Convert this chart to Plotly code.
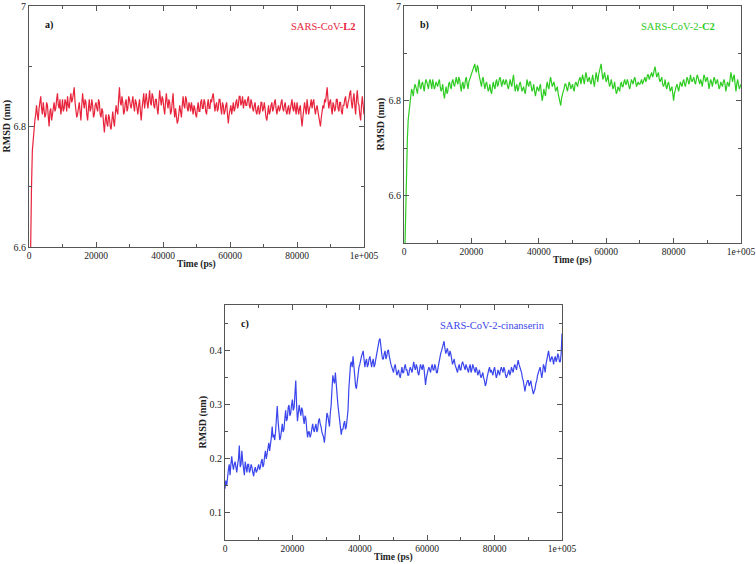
import plotly.graph_objects as go

time_ps = list(range(0, 100001, 250))

rmsd_l2 = [
    6.40, 6.52, 6.62, 6.70, 6.76, 6.78, 6.79, 6.81, 6.82, 6.835, 6.82, 6.81, 6.83, 6.845, 6.85, 6.83, 6.82, 6.84, 6.83, 6.815,
    6.82, 6.84, 6.835, 6.815, 6.80, 6.825, 6.83, 6.81, 6.82, 6.835, 6.84, 6.825, 6.83, 6.845, 6.855, 6.835, 6.83, 6.845, 6.82, 6.83,
    6.845, 6.825, 6.83, 6.845, 6.84, 6.825, 6.85, 6.835, 6.83, 6.845, 6.855, 6.84, 6.845, 6.855, 6.865, 6.84, 6.83, 6.815, 6.82, 6.835,
    6.84, 6.825, 6.81, 6.835, 6.855, 6.84, 6.83, 6.845, 6.84, 6.82, 6.81, 6.83, 6.845, 6.825, 6.83, 6.845, 6.835, 6.815, 6.82, 6.835,
    6.84, 6.83, 6.825, 6.845, 6.84, 6.82, 6.815, 6.83, 6.825, 6.805, 6.79, 6.81, 6.82, 6.805, 6.80, 6.82, 6.815, 6.80, 6.795, 6.81,
    6.825, 6.81, 6.80, 6.82, 6.835, 6.825, 6.82, 6.845, 6.865, 6.84, 6.835, 6.85, 6.84, 6.82, 6.825, 6.84, 6.845, 6.825, 6.83, 6.85,
    6.845, 6.835, 6.83, 6.84, 6.85, 6.835, 6.825, 6.845, 6.84, 6.83, 6.82, 6.835, 6.845, 6.825, 6.81, 6.83, 6.84, 6.855, 6.83, 6.845,
    6.855, 6.84, 6.83, 6.845, 6.86, 6.84, 6.835, 6.855, 6.85, 6.835, 6.83, 6.845, 6.845, 6.83, 6.82, 6.84, 6.86, 6.845, 6.835, 6.85,
    6.845, 6.83, 6.82, 6.84, 6.855, 6.84, 6.83, 6.845, 6.84, 6.82, 6.825, 6.84, 6.855, 6.83, 6.815, 6.83, 6.82, 6.805, 6.81, 6.825,
    6.835, 6.825, 6.815, 6.835, 6.85, 6.835, 6.83, 6.85, 6.845, 6.83, 6.825, 6.84, 6.835, 6.825, 6.84, 6.83, 6.82, 6.835, 6.83, 6.82,
    6.815, 6.83, 6.84, 6.825, 6.825, 6.84, 6.845, 6.83, 6.83, 6.845, 6.84, 6.825, 6.82, 6.835, 6.845, 6.83, 6.83, 6.845, 6.84, 6.85,
    6.855, 6.84, 6.825, 6.835, 6.84, 6.825, 6.83, 6.845, 6.845, 6.83, 6.82, 6.84, 6.835, 6.82, 6.825, 6.835, 6.84, 6.82, 6.805, 6.82,
    6.83, 6.835, 6.82, 6.83, 6.84, 6.825, 6.83, 6.84, 6.845, 6.83, 6.835, 6.85, 6.85, 6.835, 6.84, 6.85, 6.83, 6.84, 6.845, 6.835,
    6.835, 6.845, 6.85, 6.835, 6.83, 6.845, 6.84, 6.83, 6.825, 6.835, 6.84, 6.825, 6.82, 6.83, 6.835, 6.82, 6.825, 6.84, 6.84, 6.825,
    6.83, 6.84, 6.825, 6.815, 6.81, 6.825, 6.835, 6.82, 6.825, 6.835, 6.84, 6.825, 6.83, 6.84, 6.845, 6.83, 6.82, 6.83, 6.835, 6.825,
    6.83, 6.84, 6.845, 6.83, 6.825, 6.835, 6.84, 6.825, 6.82, 6.83, 6.835, 6.82, 6.83, 6.84, 6.845, 6.83, 6.825, 6.84, 6.83, 6.82,
    6.84, 6.83, 6.82, 6.83, 6.835, 6.815, 6.80, 6.815, 6.825, 6.84, 6.83, 6.82, 6.845, 6.835, 6.82, 6.83, 6.835, 6.845, 6.83, 6.84,
    6.845, 6.83, 6.82, 6.83, 6.835, 6.825, 6.815, 6.81, 6.80, 6.815, 6.825, 6.835, 6.83, 6.845, 6.84, 6.85, 6.865, 6.845, 6.83, 6.84,
    6.845, 6.83, 6.82, 6.84, 6.835, 6.825, 6.83, 6.845, 6.845, 6.83, 6.825, 6.84, 6.84, 6.825, 6.82, 6.835, 6.835, 6.845, 6.85, 6.835,
    6.83, 6.84, 6.845, 6.855, 6.86, 6.84, 6.83, 6.845, 6.855, 6.835, 6.82, 6.845, 6.86, 6.84, 6.835, 6.82, 6.81, 6.835, 6.85, 6.835,
    6.82,
]

rmsd_c2 = [
    6.40, 6.50, 6.60, 6.67, 6.72, 6.76, 6.78, 6.80, 6.81, 6.825, 6.82, 6.81, 6.825, 6.835, 6.83, 6.82, 6.815, 6.835, 6.845, 6.83,
    6.825, 6.835, 6.84, 6.83, 6.82, 6.835, 6.845, 6.84, 6.83, 6.825, 6.84, 6.845, 6.835, 6.825, 6.845, 6.835, 6.825, 6.83, 6.84, 6.835,
    6.83, 6.84, 6.845, 6.83, 6.82, 6.825, 6.835, 6.815, 6.805, 6.82, 6.83, 6.815, 6.82, 6.835, 6.84, 6.83, 6.825, 6.84, 6.845, 6.835,
    6.83, 6.84, 6.85, 6.84, 6.835, 6.85, 6.845, 6.83, 6.82, 6.835, 6.84, 6.825, 6.83, 6.845, 6.85, 6.835, 6.825, 6.84, 6.845, 6.85,
    6.855, 6.86, 6.865, 6.87, 6.878, 6.865, 6.86, 6.875, 6.87, 6.855, 6.845, 6.835, 6.83, 6.845, 6.85, 6.835, 6.825, 6.835, 6.84, 6.83,
    6.82, 6.825, 6.835, 6.82, 6.815, 6.83, 6.84, 6.83, 6.825, 6.84, 6.845, 6.83, 6.835, 6.845, 6.85, 6.84, 6.83, 6.84, 6.845, 6.835,
    6.835, 6.845, 6.84, 6.83, 6.825, 6.835, 6.845, 6.835, 6.83, 6.845, 6.855, 6.835, 6.82, 6.83, 6.835, 6.82, 6.825, 6.835, 6.84, 6.83,
    6.82, 6.825, 6.83, 6.82, 6.815, 6.83, 6.845, 6.835, 6.83, 6.84, 6.84, 6.83, 6.82, 6.825, 6.835, 6.82, 6.81, 6.82, 6.83, 6.825,
    6.82, 6.83, 6.835, 6.815, 6.80, 6.81, 6.825, 6.815, 6.81, 6.83, 6.84, 6.83, 6.825, 6.84, 6.85, 6.84, 6.83, 6.835, 6.84, 6.83,
    6.82, 6.825, 6.83, 6.815, 6.805, 6.795, 6.79, 6.805, 6.815, 6.82, 6.825, 6.835, 6.835, 6.825, 6.82, 6.83, 6.84, 6.835, 6.825, 6.83,
    6.835, 6.825, 6.82, 6.835, 6.84, 6.835, 6.83, 6.84, 6.845, 6.85, 6.835, 6.845, 6.855, 6.845, 6.835, 6.85, 6.86, 6.85, 6.84, 6.845,
    6.85, 6.84, 6.835, 6.845, 6.855, 6.84, 6.83, 6.845, 6.86, 6.85, 6.84, 6.855, 6.865, 6.87, 6.878, 6.86, 6.845, 6.85, 6.86, 6.85,
    6.84, 6.845, 6.855, 6.84, 6.83, 6.835, 6.845, 6.835, 6.825, 6.83, 6.84, 6.825, 6.815, 6.82, 6.83, 6.825, 6.82, 6.835, 6.84, 6.83,
    6.83, 6.84, 6.845, 6.835, 6.835, 6.845, 6.84, 6.83, 6.825, 6.835, 6.845, 6.84, 6.835, 6.845, 6.85, 6.84, 6.83, 6.835, 6.84, 6.835,
    6.835, 6.84, 6.845, 6.835, 6.84, 6.845, 6.85, 6.84, 6.845, 6.855, 6.855, 6.845, 6.85, 6.855, 6.86, 6.85, 6.855, 6.865, 6.872, 6.86,
    6.85, 6.855, 6.86, 6.845, 6.84, 6.845, 6.85, 6.835, 6.83, 6.835, 6.845, 6.83, 6.825, 6.835, 6.84, 6.83, 6.82, 6.825, 6.83, 6.815,
    6.80, 6.815, 6.825, 6.83, 6.835, 6.825, 6.82, 6.83, 6.84, 6.835, 6.83, 6.84, 6.845, 6.835, 6.83, 6.84, 6.85, 6.845, 6.835, 6.84,
    6.855, 6.845, 6.84, 6.845, 6.85, 6.84, 6.835, 6.845, 6.855, 6.85, 6.84, 6.835, 6.845, 6.84, 6.83, 6.84, 6.855, 6.85, 6.84, 6.845,
    6.85, 6.84, 6.825, 6.835, 6.845, 6.84, 6.83, 6.84, 6.85, 6.845, 6.835, 6.84, 6.845, 6.835, 6.825, 6.83, 6.84, 6.835, 6.83, 6.84,
    6.845, 6.835, 6.82, 6.83, 6.84, 6.835, 6.83, 6.845, 6.86, 6.85, 6.84, 6.85, 6.855, 6.835, 6.82, 6.835, 6.845, 6.835, 6.825, 6.83,
    6.835,
]

rmsd_cin = [
    0.145, 0.16, 0.15, 0.17, 0.18, 0.19, 0.17, 0.19, 0.205, 0.19, 0.18, 0.19, 0.195, 0.185, 0.175, 0.19, 0.2, 0.225, 0.185, 0.19,
    0.215, 0.195, 0.18, 0.17, 0.195, 0.185, 0.175, 0.19, 0.19, 0.175, 0.18, 0.19, 0.185, 0.175, 0.168, 0.18, 0.185, 0.175, 0.178, 0.185,
    0.19, 0.18, 0.185, 0.195, 0.2, 0.185, 0.19, 0.205, 0.215, 0.2, 0.21, 0.225, 0.23, 0.215, 0.225, 0.24, 0.26, 0.24, 0.245, 0.235,
    0.25, 0.27, 0.298, 0.27, 0.255, 0.235, 0.24, 0.255, 0.265, 0.25, 0.255, 0.275, 0.29, 0.27, 0.275, 0.295, 0.3, 0.28, 0.285, 0.3,
    0.31, 0.29, 0.295, 0.32, 0.345, 0.3, 0.27, 0.285, 0.3, 0.29, 0.28, 0.295, 0.29, 0.275, 0.265, 0.28, 0.275, 0.255, 0.24, 0.25,
    0.25, 0.24, 0.245, 0.255, 0.265, 0.255, 0.25, 0.26, 0.265, 0.25, 0.255, 0.27, 0.275, 0.265, 0.26, 0.25, 0.245, 0.24, 0.23, 0.25,
    0.27, 0.285, 0.28, 0.265, 0.26, 0.285, 0.3, 0.33, 0.355, 0.345, 0.34, 0.36, 0.345, 0.32, 0.3, 0.285, 0.27, 0.26, 0.245, 0.255,
    0.255, 0.265, 0.27, 0.255, 0.26, 0.275, 0.29, 0.33, 0.365, 0.375, 0.38, 0.37, 0.39, 0.37, 0.35, 0.335, 0.33, 0.345, 0.36, 0.37,
    0.375, 0.385, 0.39, 0.395, 0.4, 0.385, 0.37, 0.38, 0.385, 0.37, 0.375, 0.385, 0.39, 0.38, 0.37, 0.38, 0.385, 0.37, 0.375, 0.385,
    0.395, 0.4, 0.41, 0.42, 0.423, 0.405, 0.395, 0.385, 0.385, 0.395, 0.4, 0.385, 0.39, 0.4, 0.402, 0.39, 0.38, 0.375, 0.37, 0.365,
    0.36, 0.37, 0.375, 0.365, 0.355, 0.36, 0.365, 0.355, 0.35, 0.36, 0.37, 0.36, 0.36, 0.37, 0.375, 0.365, 0.365, 0.355, 0.355, 0.365,
    0.37, 0.365, 0.36, 0.37, 0.38, 0.37, 0.365, 0.375, 0.37, 0.36, 0.355, 0.365, 0.375, 0.37, 0.365, 0.375, 0.37, 0.355, 0.337, 0.35,
    0.36, 0.365, 0.37, 0.365, 0.36, 0.37, 0.375, 0.365, 0.365, 0.375, 0.37, 0.36, 0.36, 0.37, 0.38, 0.39, 0.395, 0.4, 0.405, 0.41,
    0.418, 0.405, 0.395, 0.4, 0.405, 0.395, 0.39, 0.4, 0.395, 0.385, 0.375, 0.38, 0.385, 0.375, 0.37, 0.365, 0.36, 0.37, 0.375, 0.365,
    0.365, 0.375, 0.38, 0.375, 0.37, 0.365, 0.375, 0.37, 0.365, 0.36, 0.37, 0.375, 0.36, 0.365, 0.375, 0.37, 0.365, 0.36, 0.37, 0.365,
    0.355, 0.36, 0.365, 0.355, 0.35, 0.355, 0.36, 0.35, 0.345, 0.335, 0.34, 0.35, 0.36, 0.365, 0.37, 0.36, 0.365, 0.36, 0.355, 0.365,
    0.37, 0.36, 0.35, 0.355, 0.365, 0.36, 0.355, 0.365, 0.37, 0.365, 0.36, 0.37, 0.365, 0.355, 0.35, 0.355, 0.36, 0.365, 0.355, 0.36,
    0.37, 0.365, 0.36, 0.37, 0.375, 0.37, 0.365, 0.375, 0.383, 0.375, 0.37, 0.365, 0.36, 0.35, 0.345, 0.335, 0.325, 0.335, 0.34, 0.345,
    0.345, 0.335, 0.34, 0.345, 0.335, 0.325, 0.32, 0.325, 0.33, 0.34, 0.345, 0.355, 0.36, 0.365, 0.37, 0.36, 0.35, 0.36, 0.375, 0.37,
    0.36, 0.375, 0.385, 0.395, 0.4, 0.39, 0.38, 0.385, 0.39, 0.385, 0.375, 0.385, 0.39, 0.38, 0.385, 0.395, 0.39, 0.38, 0.38, 0.395,
    0.432,
]

x_tickvals = [0, 20000, 40000, 60000, 80000, 100000]
x_ticktext = ["0", "20000", "40000", "60000", "80000", "1e+005"]
x_minor = [10000, 30000, 50000, 70000, 90000]
panel_labels = ["a)", "b)", "c)"]
legend_texts = ["SARS-CoV-<b>L2</b>", "SARS-CoV-2-<b>C2</b>", "SARS-CoV-2-cinanserin"]
colors = ["#e8243c", "#2ecc22", "#3a46ec"]

W, H = 756, 564
def px_x(v): return v / W
def px_y(v): return 1 - v / H

panels = [
    dict(x0=29, x1=364, yt=6, yb=247, yr=[6.6, 7.0], yticks=[6.6, 6.8, 7.0], ytext=["6.6", "6.8", "7"],
         yminor=[6.7, 6.9], leg_off=7),
    dict(x0=404, x1=741, yt=6, yb=243, yr=[6.5, 7.0], yticks=[6.6, 6.8, 7.0], ytext=["6.6", "6.8", "7"],
         yminor=[6.7, 6.9], leg_off=24),
    dict(x0=225, x1=562, yt=305, yb=540, yr=[0.05, 0.485], yticks=[0.1, 0.2, 0.3, 0.4], ytext=["0.1", "0.2", "0.3", "0.4"],
         yminor=[0.15, 0.25, 0.35, 0.45], leg_off=15),
]
series = [rmsd_l2, rmsd_c2, rmsd_cin]

fig = go.Figure()
font_family = "Liberation Serif, Times New Roman, serif"
axis_col = "#555555"
annotations = []
for i, (p, ys) in enumerate(zip(panels, series)):
    n = "" if i == 0 else str(i + 1)
    fig.add_trace(go.Scatter(x=time_ps, y=ys, mode="lines",
                             line=dict(color=colors[i], width=1.2),
                             xaxis="x" + n, yaxis="y" + n, showlegend=False))
    xd = [px_x(p["x0"]), px_x(p["x1"])]
    yd = [px_y(p["yb"]), px_y(p["yt"])]
    fig.layout["xaxis" + n] = dict(
        domain=xd, range=[0, 100000], anchor="y" + n, automargin=False,
        tickvals=x_tickvals, ticktext=x_ticktext, ticks="inside", ticklen=5,
        tickcolor=axis_col, showline=True, linecolor=axis_col, linewidth=1,
        mirror="allticks", showgrid=False, zeroline=False,
        tickfont=dict(family=font_family, size=9.5, color="#222"),
        minor=dict(tickvals=x_minor, ticks="inside", ticklen=3, tickcolor=axis_col),
    )
    fig.layout["yaxis" + n] = dict(
        domain=yd, range=p["yr"], anchor="x" + n, automargin=False,
        tickvals=p["yticks"], ticktext=p["ytext"], ticks="inside", ticklen=5,
        tickcolor=axis_col, showline=True, linecolor=axis_col, linewidth=1,
        mirror="allticks", showgrid=False, zeroline=False,
        tickfont=dict(family=font_family, size=10, color="#222"),
        minor=dict(tickvals=p["yminor"], ticks="inside", ticklen=3, tickcolor=axis_col),
    )
    annotations.append(dict(text="<b>" + panel_labels[i] + "</b>", x=px_x(p["x0"] + 14), y=px_y(p["yt"] + 19),
                            xref="paper", yref="paper", showarrow=False, xanchor="left", yanchor="middle",
                            font=dict(family=font_family, size=10, color="#111")))
    annotations.append(dict(text=legend_texts[i], x=px_x(p["x1"] - p["leg_off"]), y=px_y(p["yt"] + 20),
                            xref="paper", yref="paper", showarrow=False, xanchor="right", yanchor="middle",
                            font=dict(family=font_family, size=10.5, color=colors[i])))
    annotations.append(dict(text="<b>Time (ps)</b>", x=px_x((p["x0"] + p["x1"]) / 2), y=px_y(p["yb"] + 17),
                            xref="paper", yref="paper", showarrow=False, xanchor="center", yanchor="middle",
                            font=dict(family=font_family, size=9.5, color="#222")))
    annotations.append(dict(text="<b>RMSD (nm)</b>", x=px_x(p["x0"] - 23), y=px_y((p["yt"] + p["yb"]) / 2),
                            xref="paper", yref="paper", showarrow=False, xanchor="center", yanchor="middle",
                            textangle=-90, font=dict(family=font_family, size=10, color="#222")))

fig.update_layout(width=W, height=H, margin=dict(l=0, r=0, t=0, b=0),
                  paper_bgcolor="white", plot_bgcolor="white", annotations=annotations)
fig.write_html("out.html", config={"displayModeBar": False},
               post_script="document.body.style.margin='0';document.body.style.overflow='hidden';")
